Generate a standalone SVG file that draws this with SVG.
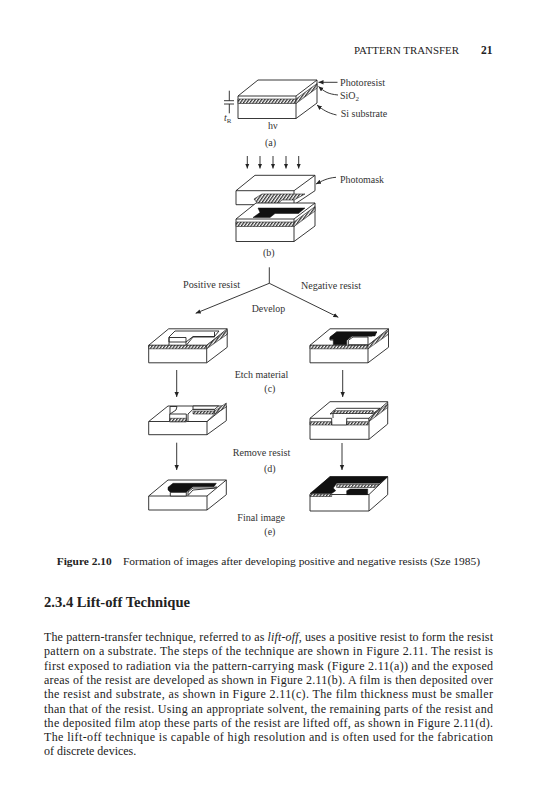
<svg xmlns="http://www.w3.org/2000/svg" width="535" height="800" viewBox="0 0 535 800">
<style>
text{font-family:"Liberation Serif","Times New Roman",serif;fill:#222}
.l{font-size:10px;fill:#333}
.b{font-size:12px}
.o{fill:#fff;stroke:#222;stroke-width:.9;stroke-linejoin:round}
.n{fill:none;stroke:#222;stroke-width:.9}
.h{fill:url(#hatch);stroke:#222;stroke-width:.6}
.k{fill:#111;stroke:#111;stroke-width:.5}
.c{fill:none;stroke:#222;stroke-width:.9}
</style>
<defs>
<pattern id="hatch" width="2.6" height="3" patternUnits="userSpaceOnUse" patternTransform="rotate(35)"><rect width="2.6" height="3" fill="#fff"/><rect width="1.3" height="3" fill="#333"/></pattern>
<marker id="a" markerWidth="6" markerHeight="6" refX="5" refY="2.5" orient="auto" markerUnits="userSpaceOnUse"><path d="M0 .3L5 2.500L0 4.700z" fill="#222"/></marker>
<g id="base22">
<path class="o" d="M0 0L20 -16H79V7L58 22.500H0z"/>
<path class="n" d="M58 22.500V0L79 -16M0 0H58"/>
<path class="h" d="M0 3H58V7.500H0z"/>
<path class="h" d="M58 3L79 -12.500V-8L58 7.500z"/>
</g>
<g id="base18">
<path class="o" d="M0 0L20 -16.500H78.500V2L58 17.500H0z"/>
<path class="n" d="M58 17.500V0L78.500 -16.500M0 0H58"/>
<path class="h" d="M0 0H58V3.500H0z"/>
<path class="h" d="M58 0L78.500 -15V-11L58 3.500z"/>
</g>
</defs>
<rect width="535" height="800" fill="#fff"/>
<text x="354" y="54" font-size="10.500" textLength="105" lengthAdjust="spacingAndGlyphs">PATTERN TRANSFER</text>
<text x="481" y="54" font-size="11.500" font-weight="bold">21</text>

<g id="connectors">
<path class="c" marker-end="url(#a)" d="M337.500 82.300H318.500"/>
<path class="c" marker-end="url(#a)" d="M338 95C328 94 325 92 318.500 86.500"/>
<path class="c" marker-end="url(#a)" d="M336.500 115C328 113 323 110 317 105"/>
<path class="c" d="M229.300 90.700V100.700M224 100.700H234M224 104H234M229.300 104V113.300"/>
<path class="c" marker-end="url(#a)" d="M247.300 156V168.500"/>
<path class="c" marker-end="url(#a)" d="M260 156V168.500"/>
<path class="c" marker-end="url(#a)" d="M273 156V168.500"/>
<path class="c" marker-end="url(#a)" d="M286 156V168.500"/>
<path class="c" marker-end="url(#a)" d="M298.700 156V168.500"/>
<path class="c" marker-end="url(#a)" d="M336 177.300C327 178 322 181 316 184"/>
<path class="c" d="M269.300 267.300V283.300"/>
<path class="c" marker-end="url(#a)" d="M269.300 283.300L195.700 313.300"/>
<path class="c" marker-end="url(#a)" d="M269.300 283.300L338.300 317.300"/>
<path class="c" marker-end="url(#a)" d="M176.700 370V397"/>
<path class="c" marker-end="url(#a)" d="M342.700 370V397"/>
<path class="c" marker-end="url(#a)" d="M176.700 442.700V470"/>
<path class="c" marker-end="url(#a)" d="M342 443V470"/>
</g>

<g id="block-a"><use href="#base22" x="238" y="96"/></g>

<g id="photomask">
<path class="o" d="M236 190.700L255 175.300H315V190.700L294 204.700H236z"/>
<path class="n" d="M236 190.700H294V204.700M294 190.700L315 175.300"/>
<path class="h" d="M258.500 204.700L254 199L262 194H305L294 200H282L277 204.700z"/>
</g>
<g id="block-b">
<use href="#base22" x="236" y="219"/>
<path class="k" d="M258 208H305L298.500 213.500H275L270 217.500H253L260 212.500z"/>
</g>

<g id="block-c-left">
<use href="#base18" x="148.700" y="345.300"/>
<path class="o" d="M169 337L175 331H219L214.500 336.500H193L186 342H169z"/>
<path class="n" d="M169 337.500H186V345M169 337.500V345M186.500 345L193 337H214.500V332"/>
</g>
<g id="block-c-right">
<use href="#base18" x="310" y="345.300"/>
<path class="o" d="M330 337.500L336.700 332H377L372 336H352L347 340H330z"/>
<path class="k" d="M330 337L336.700 332H376.700L375 336H351.700L346.700 340.300V344.700H333.300V339.300H330z"/>
<path class="o" d="M348.300 344.700V340.300L353 337H368V344.700z"/>
</g>

<g id="block-d-left">
<path class="o" d="M148.700 421.500L168 406H226.300V420.700L207 434.700H148.700z"/>
<path class="n" d="M207 434.700V421.500L226.300 406M148.700 421.500H169.700M186.300 421.500H207"/>
<path class="o" d="M169.700 414H186.300V421.700H169.700z"/>
<path class="h" d="M169.700 418.300H186.300V421.700H169.700z"/>
<path class="o" d="M170 414L170 406.500H177L176 410L170 414z"/>
<path class="o" d="M188 421.500V414L193 409.300H214.700V414L207 421.500z"/>
<path class="o" d="M193 406H218.500L214.700 409.300H193z"/>
<path class="h" d="M193 411H214.700V414H193z"/>
<path class="h" d="M214.700 411L226.300 403V407L214.700 414z"/>
</g>
<g id="block-d-right">
<path class="o" d="M310 418.300L330 401.700H387.700V424L369 439.300H310z"/>
<path class="n" d="M369 439.300V418.300L387.700 402M310 418.300H331.700M346.700 418.300H369"/>
<path class="o" d="M330 414L336.700 408.300H380L373.300 413.300H333z"/>
<path class="h" d="M333.300 410.700H373.300V413.500H333.300z"/>
<path class="h" d="M310 421.700H331.700V425H310z"/>
<path class="h" d="M346.700 421.700H368.300V425H346.700z"/>
<path class="n" d="M331.700 418.300V425M346.700 418.300V425M331.700 425H346.700M333 414V418"/>
<path class="h" d="M369 418L387.700 404V407.500L369 421.500z"/>
</g>

<g id="block-e-left">
<path class="o" d="M148.700 496L168 480H226.300V494.700L207 510H148.700z"/>
<path class="n" d="M207 510V496L226.300 480M148.700 496H207"/>
<path class="k" d="M168 487.300L173 483.300H216.300L214 486.700H193L186.300 492.300H170.300L168 490z"/>
<path class="o" d="M170.300 492.300H186.300V496H170.300z"/>
<path class="o" d="M188 495.500V492L193 488H214L216.300 486.700V488L193 490z"/>
</g>
<g id="block-e-right">
<path class="o" d="M310 494.500L330 476.700H387.700V494.700L369 511H310z"/>
<path class="n" d="M369 511V494.500L387.700 476.700M310 494.500H369"/>
<path class="k" d="M310 493.500L330 476.700H387.700L380 483.300H336.700L333.300 488L335.700 490.700L331.700 493.500z"/>
<path class="h" d="M336.700 484.500H379L375 487.500H336.700z"/>
<path class="h" d="M310 494H331.700V496.500H310z"/>
<path class="k" d="M346.700 494.700V490.700L350 489H367.700V494.700z"/>
</g>

<g id="labels">
<text class="l" x="340" y="86" textLength="45" lengthAdjust="spacingAndGlyphs">Photoresist</text>
<text class="l" x="340" y="99">SiO<tspan font-size="7" dy="2">2</tspan></text>
<text class="l" x="340.700" y="117.300" textLength="46.500" lengthAdjust="spacingAndGlyphs">Si substrate</text>
<text class="l" x="224" y="121" font-style="italic">t<tspan font-size="7" dy="2" font-style="normal">R</tspan></text>
<text class="l" x="268" y="129">hν</text>
<text class="l" x="265" y="146">(a)</text>
<text class="l" x="340" y="182.700" textLength="44" lengthAdjust="spacingAndGlyphs">Photomask</text>
<text class="l" x="263" y="255.700">(b)</text>
<text class="l" x="183" y="287.700" textLength="57" lengthAdjust="spacingAndGlyphs">Positive resist</text>
<text class="l" x="301" y="289.300" textLength="60" lengthAdjust="spacingAndGlyphs">Negative resist</text>
<text class="l" x="251.700" y="311.700" textLength="33.500" lengthAdjust="spacingAndGlyphs">Develop</text>
<text class="l" x="234.700" y="377.700" textLength="53.500" lengthAdjust="spacingAndGlyphs">Etch material</text>
<text class="l" x="264.300" y="392">(c)</text>
<text class="l" x="232.700" y="455.700" textLength="57.500" lengthAdjust="spacingAndGlyphs">Remove resist</text>
<text class="l" x="264" y="471.700">(d)</text>
<text class="l" x="237.300" y="520.700" textLength="47.700" lengthAdjust="spacingAndGlyphs">Final image</text>
<text class="l" x="264.300" y="535">(e)</text>
</g>

<text x="56.700" y="565" font-size="11" font-weight="bold" textLength="55" lengthAdjust="spacingAndGlyphs">Figure 2.10</text>
<text x="123" y="565" font-size="11" textLength="357" lengthAdjust="spacingAndGlyphs">Formation of images after developing positive and negative resists (Sze 1985)</text>
<text x="44" y="606.700" font-size="15" font-weight="bold" textLength="146" lengthAdjust="spacingAndGlyphs">2.3.4 Lift-off Technique</text>
<text class="b" x="44" y="640.500" textLength="449">The pattern-transfer technique, referred to as <tspan font-style="italic">lift-off</tspan>, uses a positive resist to form the resist</text>
<text class="b" x="44" y="655" textLength="449">pattern on a substrate. The steps of the technique are shown in Figure 2.11. The resist is</text>
<text class="b" x="44" y="669.500" textLength="449">first exposed to radiation via the pattern-carrying mask (Figure 2.11(a)) and the exposed</text>
<text class="b" x="44" y="684" textLength="449">areas of the resist are developed as shown in Figure 2.11(b). A film is then deposited over</text>
<text class="b" x="44" y="698" textLength="449">the resist and substrate, as shown in Figure 2.11(c). The film thickness must be smaller</text>
<text class="b" x="44" y="712.500" textLength="449">than that of the resist. Using an appropriate solvent, the remaining parts of the resist and</text>
<text class="b" x="44" y="727" textLength="449">the deposited film atop these parts of the resist are lifted off, as shown in Figure 2.11(d).</text>
<text class="b" x="44" y="741" textLength="449">The lift-off technique is capable of high resolution and is often used for the fabrication</text>
<text class="b" x="44" y="755">of discrete devices.</text>
</svg>
